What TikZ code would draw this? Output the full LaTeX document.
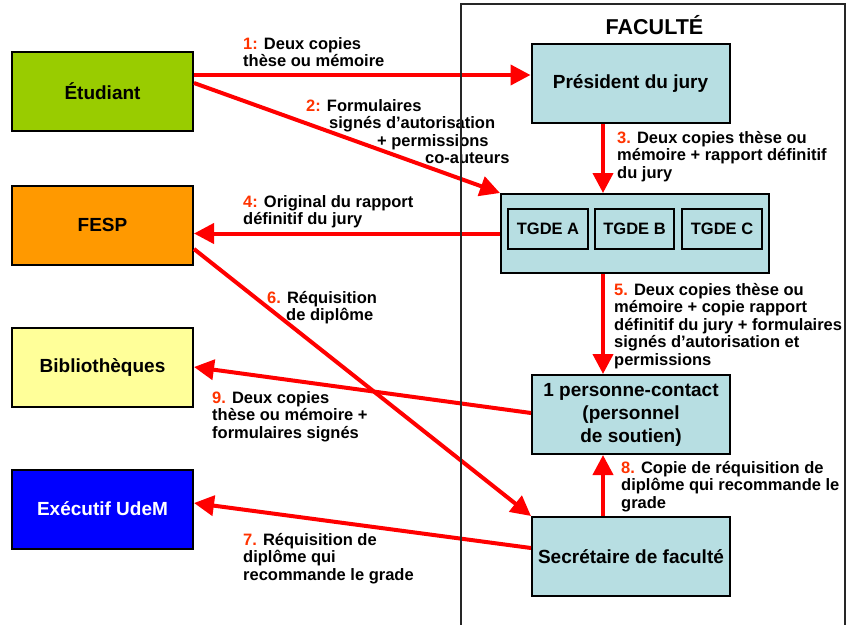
\documentclass[tikz,border=0pt]{standalone}
\usepackage{fontspec}
\setmainfont{Liberation Sans}
\usetikzlibrary{arrows.meta}
\tikzset{% change default arrow tips
    >={Triangle[length=20pt,width=20pt]}
}
\definecolor{etudvert}{RGB}{153,204,0}
\definecolor{fesporange}{RGB}{255,153,0}
\definecolor{bibjaune}{RGB}{255,255,153}
\definecolor{udembleu}{RGB}{0,0,255}
\definecolor{facbleu}{RGB}{183,222,226}
\definecolor{numrouge}{RGB}{255,51,0}
\newcommand{\nb}[1]{\textcolor{numrouge}{#1}}

\begin{document}
\begin{tikzpicture}[x=1pt,y=-1pt,
    boite/.style={draw=black, line width=2pt, inner sep=0pt, align=center,
        font=\fontsize{19}{23}\selectfont\bfseries},
    etiq/.style={anchor=north west, inner sep=0pt, align=left,
        font=\fontsize{16.5}{17.5}\selectfont\bfseries},
    fleche/.style={->, red, line width=4pt}]
    		\newcommand{\gw}{181pt}
    		\newcommand{\dw}{198pt}
    		\newcommand{\bh}{79pt}

    		\useasboundingbox (0,0) rectangle (848,624);

    		% outside
    		\node[boite, fill=etudvert, minimum width=\gw, minimum height=\bh] (etud) at (102.5,91.5) {Étudiant};
    		\node[boite, fill=fesporange, minimum width=\gw, minimum height=\bh] (fesp) at (102.5,225) {FESP};
    		\node[boite, fill=bibjaune, minimum width=\gw, minimum height=\bh] (bib) at (102.5,367) {Bibliothèques};
    		\node[boite, fill=udembleu, text=white, minimum width=\gw, minimum height=\bh] (exec) at (102.5,509) {Exécutif UdeM};

    		% faculty
    		\node[font=\fontsize{21.5}{24}\selectfont\bfseries, inner sep=0pt] (fac) at (654.5,25) {FACULTÉ};
    		\node[boite, fill=facbleu, minimum width=\dw, minimum height=\bh] (pres) at (630.5,83.5) {Président du jury};
    		\node[boite, fill=facbleu, minimum width=268pt, minimum height=\bh] (tgde) at (635,233.5) {};
    		\node[boite, fill=facbleu, font=\fontsize{16.5}{18}\selectfont\bfseries, minimum width=80pt, minimum height=40pt] (tgdea) at (548,229) {TGDE A};
    		\node[boite, fill=facbleu, font=\fontsize{16.5}{18}\selectfont\bfseries, minimum width=79pt, minimum height=40pt] (tgdeb) at (634.5,229) {TGDE B};
    		\node[boite, fill=facbleu, font=\fontsize{16.5}{18}\selectfont\bfseries, minimum width=80pt, minimum height=40pt] (tgdec) at (722,229) {TGDE C};
    		\node[boite, fill=facbleu, minimum width=\dw, minimum height=\bh] (contact) at (631,414.5) {1 personne-contact\\(personnel\\de soutien)};
    		\node[boite, fill=facbleu, minimum width=\dw, minimum height=\bh] (secr) at (631,556.5) {Secrétaire de faculté};

    		% arrows
        	\draw[fleche] ([yshift=16.5pt]etud.east) -- ([yshift=8.5pt]pres.west);
        	\draw[fleche] ([yshift=8.5pt]etud.east) -- (tgde.north west);
        	\draw[fleche] ([xshift=-27.5pt]pres.south) -- ([xshift=-32pt]tgde.north);
        	\draw[fleche] (tgde.west) -- ([yshift=-8.5pt]fesp.east);
        	\draw[fleche] ([xshift=-32pt]tgde.south) -- ([xshift=-28pt]contact.north);
        	\draw[fleche] ([yshift=-24pt]fesp.east) -- (secr.north west);
        	\draw[fleche] ([yshift=8.5pt]secr.west) -- ([yshift=6pt]exec.east);
        	\draw[fleche] ([xshift=-28pt]secr.north) -- ([xshift=-28pt]contact.south);
        	\draw[fleche] ([yshift=1.5pt]contact.west) -- (bib.east);

    		% labels
    		\node[etiq] (l1) at (243,37) {\nb{1:} Deux copies\\thèse ou mémoire};
    		\node[etiq] (l2) at (306,99) {\nb{2:} Formulaires\\\hspace*{23pt}signés d’autorisation\\\hspace*{71pt}+ permissions\\\hspace*{119pt}co-auteurs};
    		\node[etiq] (l3) at (617,131) {\nb{3.} Deux copies thèse ou\\mémoire + rapport définitif\\du jury};
    		\node[etiq] (l4) at (243,195) {\nb{4:} Original du rapport\\définitif du jury};
    		\node[etiq] (l5) at (614,283) {\nb{5.} Deux copies thèse ou\\mémoire + copie rapport\\définitif du jury + formulaires\\signés d’autorisation et\\permissions};
    		\node[etiq] (l6) at (267,291) {\nb{6.} Réquisition\\\hspace*{19pt}de diplôme};
    		\node[etiq] (l7) at (243,533) {\nb{7.} Réquisition de\\diplôme qui\\recommande le grade};
    		\node[etiq] (l8) at (621,461) {\nb{8.} Copie de réquisition de\\diplôme qui recommande le\\grade};
    		\node[etiq] (l9) at (212,391) {\nb{9.} Deux copies\\thèse ou mémoire +\\formulaires signés};

    		% frame
    		\draw[line width=1.5pt, black!85] (461,640) -- (461,4) -- (845,4) -- (845,640);

\end{tikzpicture}
\end{document}
